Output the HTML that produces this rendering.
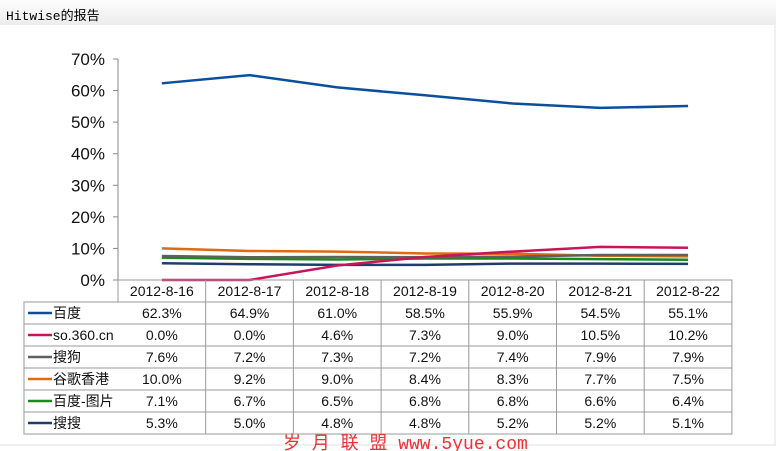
<!DOCTYPE html>
<html><head><meta charset="utf-8"><style>
body{margin:0;width:776px;height:451px;background:#fff;overflow:hidden;font-family:"Liberation Sans","Noto Sans CJK SC",sans-serif}
#hdr{position:absolute;left:0;top:0;width:776px;height:25px;background:linear-gradient(#fdfdfd,#ececec);}
#hdr span{position:absolute;left:6px;top:5px;font:13px "Liberation Mono","Noto Sans CJK SC",monospace;color:#000}
svg{position:absolute;left:0;top:0}
</style></head><body>
<div id="hdr"><span>Hitwise的报告</span></div>
<svg id="c" width="776" height="451"></svg>
<script>
const categories=["2012-8-16","2012-8-17","2012-8-18","2012-8-19","2012-8-20","2012-8-21","2012-8-22"];
const seriesNames=["百度","so.360.cn","搜狗","谷歌香港","百度-图片","搜搜"];
const seriesColors=["#0b4f9c","#c8155a","#606060","#e06a10","#1a8a1a","#1f3d6b"];
const baidu=[62.3,64.9,61.0,58.5,55.9,54.5,55.1];
const so360=[0.0,0.0,4.6,7.3,9.0,10.5,10.2];
const sogou=[7.6,7.2,7.3,7.2,7.4,7.9,7.9];
const googleHK=[10.0,9.2,9.0,8.4,8.3,7.7,7.5];
const baiduImg=[7.1,6.7,6.5,6.8,6.8,6.6,6.4];
const soso=[5.3,5.0,4.8,4.8,5.2,5.2,5.1];
const yTicks=[0,10,20,30,40,50,60,70];
const series=[baidu,so360,sogou,googleHK,baiduImg,soso];
const NS="http://www.w3.org/2000/svg";
const svg=document.getElementById('c');
const X0=118,CW=87.7,Y0=280,YH=221;
const y=v=>Y0-v/70*YH;
const xc=i=>X0+CW*(i+0.5);
function mk(t,a,p){const e=document.createElementNS(NS,t);for(const k in a)e.setAttribute(k,a[k]);(p||svg).appendChild(e);return e;}
const ax=mk('line',{x1:X0,y1:y(70),x2:X0,y2:Y0,stroke:'#888','stroke-width':1});


yTicks.forEach(t=>{
  const tk=mk('line',{x1:X0-5,x2:X0,y1:y(t),y2:y(t),stroke:'#888'});
  
  
  const tx=mk('text',{x:X0-13,y:y(t)+6,'text-anchor':'end','font-size':17,fill:'#111'});
  tx.textContent=t+'%';
  
  
});
for(let s=series.length-1;s>=0;s--){
  const pl=mk('polyline',{points:series[s].map((v,i)=>xc(i)+','+y(v)).join(' '),fill:'none',stroke:seriesColors[s],'stroke-width':2.5});
  
  
}
const L=24,R=X0+CW*7,RH=22,T0=280;
const g=mk('g',{stroke:'#9a9a9a','stroke-width':1,fill:'none'});
mk('rect',{x:X0,y:T0,width:R-X0,height:RH},g);
mk('rect',{x:L,y:T0+RH,width:R-L,height:RH*6},g);
for(let i=1;i<7;i++)mk('line',{x1:X0+CW*i,x2:X0+CW*i,y1:T0,y2:T0+RH*7},g);
for(let r=2;r<7;r++)mk('line',{x1:L,x2:R,y1:T0+RH*r,y2:T0+RH*r},g);
categories.forEach((c,i)=>{
  const t=mk('text',{x:xc(i),y:T0+16,'text-anchor':'middle','font-size':14,fill:'#111'});
  t.textContent=c;
  
  
});
series.forEach((vals,s)=>{
  const ry=T0+RH*(s+1);
  const ln=mk('line',{x1:L+4,x2:L+28,y1:ry+RH/2,y2:ry+RH/2,stroke:seriesColors[s],'stroke-width':2.5});
  
  
  const nm=mk('text',{x:L+29,y:ry+16,'font-size':14,fill:'#111'});
  nm.textContent=seriesNames[s];
  
  
  vals.forEach((v,i)=>{
    const t=mk('text',{x:xc(i),y:ry+16,'text-anchor':'middle','font-size':14,fill:'#111'});
    t.textContent=v.toFixed(1)+'%';
    
    
  });
});
const b1=mk('line',{x1:0,x2:776,y1:445,y2:445,stroke:'#e0e0e0'});


const b2=mk('line',{x1:775,x2:775,y1:25,y2:445,stroke:'#e0e0e0'});


const wm=mk('text',{x:283,y:449,'font-size':18,fill:'#f03030','font-family':'"Liberation Mono","Noto Sans CJK SC",monospace'});
wm.textContent='岁 月 联 盟  www.5yue.com';


</script>
</body></html>
